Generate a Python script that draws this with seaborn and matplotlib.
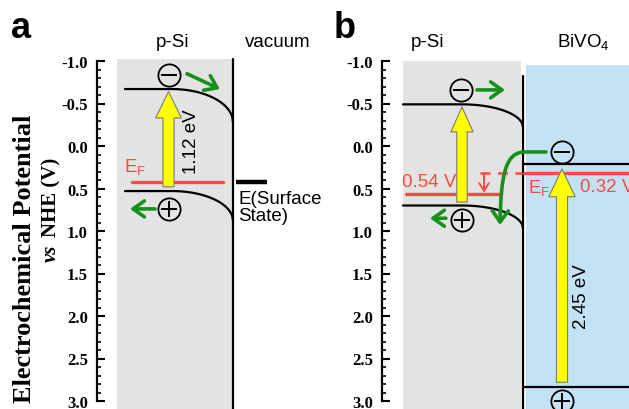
import numpy as np
import matplotlib
matplotlib.use("Agg")
import matplotlib.pyplot as plt
import seaborn as sns
from matplotlib.patches import Rectangle, FancyArrowPatch
from matplotlib.path import Path
from matplotlib.ticker import FixedLocator, FixedFormatter

# ---------------- data (potentials vs NHE, V) ----------------
tick_values = [-1.0, -0.5, 0.0, 0.5, 1.0, 1.5, 2.0, 2.5, 3.0]
tick_labels = ["-1.0", "-0.5", "0.0", "0.5", "1.0", "1.5", "2.0", "2.5", "3.0"]
minor_step = 0.1

# panel a: p-Si / vacuum
a_cb = [-0.67, -0.28]       # conduction band: bulk, surface
a_vb = [0.53, 0.88]         # valence band: bulk, surface
a_ef = 0.42                 # Fermi level
a_surface_state = 0.42      # E(Surface State)
a_gap_label = "1.12 eV"

# panel b: p-Si / BiVO4
b_si_cb = [-0.49, -0.22]
b_si_vb = [0.70, 0.97]
b_si_ef = 0.56
b_bvo_ef = 0.32
b_bvo_cb = 0.21
b_bvo_vb = 2.83
b_gap_label = "2.45 eV"
b_si_ef_label = "0.54 V"
b_bvo_ef_label = "0.32 V"

# ---------------- style ----------------
sns.set_style("white")
plt.rcParams["font.family"] = ["Liberation Sans", "DejaVu Sans"]
plt.rcParams["mathtext.fontset"] = "custom"
plt.rcParams["mathtext.rm"] = "Liberation Sans"
plt.rcParams["mathtext.it"] = "Liberation Sans"
plt.rcParams["axes.unicode_minus"] = False
plt.rcParams["ytick.color"] = "black"
plt.rcParams["ytick.labelcolor"] = "black"
plt.rcParams["text.color"] = "black"

RED = "#ff4a3d"
GREEN = "#17911c"
GRAY = "#e3e3e3"
BLUE = "#c4e2f5"
YELLOW = "#ffff00"
FS = 13.5

W, H = 629, 410
fig = plt.figure(figsize=(W / 100, H / 100), dpi=100)

PX_PER_V = 85.0
Y0_PX = 147.0  # pixel row of 0.0 V
ytop = (0 - Y0_PX) / PX_PER_V
ybot = (H - Y0_PX) / PX_PER_V


def make_axes(x0, x1):
    ax = fig.add_axes([x0 / W, 0, (x1 - x0) / W, 1])
    ax.set_xlim(x0, x1)
    ax.set_ylim(ybot, ytop)
    for s in ["top", "right", "bottom"]:
        ax.spines[s].set_visible(False)
    ax.spines["left"].set_bounds(tick_values[0], tick_values[-1])
    ax.spines["left"].set_linewidth(1.6)
    ax.spines["left"].set_color("black")
    ax.yaxis.set_major_locator(FixedLocator(tick_values))
    ax.yaxis.set_major_formatter(FixedFormatter(tick_labels))
    n_minor = int(round((tick_values[-1] - tick_values[0]) / minor_step))
    ax.yaxis.set_minor_locator(FixedLocator(
        [tick_values[0] + i * minor_step for i in range(n_minor + 1)]))
    ax.tick_params(axis="y", which="major", direction="in", length=5.5, width=1.5,
                   pad=6.5, left=True, right=False, color="black", labelcolor="black")
    ax.tick_params(axis="y", which="minor", direction="in", length=3, width=1.2,
                   left=True, right=False, color="black")
    ax.tick_params(axis="x", bottom=False, labelbottom=False)
    for lab in ax.get_yticklabels():
        lab.set_fontfamily("Liberation Serif")
        lab.set_fontweight("bold")
        lab.set_fontsize(12)
    ax.patch.set_alpha(0)
    ax.grid(False)
    return ax


def band(ax, x_start, x_bend, x_end, e_flat, e_surf, n=80):
    xs = np.concatenate([[x_start], np.linspace(x_bend, x_end, n)])
    t = (xs - x_bend) / (x_end - x_bend)
    t = np.clip(t, 0, 1)
    es = e_flat + (e_surf - e_flat) * (1 - np.sqrt(1 - t ** 2))
    sns.lineplot(x=xs, y=es, ax=ax, color="black", lw=1.6, sort=False,
                 estimator=None)


def carrier(ax, x, y, sign):
    ax.plot([x], [y], "o", ms=16, mfc="none", mec="black", mew=1.3,
            clip_on=False, zorder=6)
    ax.plot([x], [y], "+" if sign > 0 else "_", ms=11, mec="black", mew=1.4,
            clip_on=False, zorder=6)


def yellow_arrow(ax, x, y_from, y_to, tw, hw, hl):
    ax.annotate("", xy=(x, y_to), xytext=(x, y_from),
                arrowprops=dict(arrowstyle=f"simple,head_length={hl},head_width={hw},tail_width={tw}",
                                mutation_scale=10, fc=YELLOW, ec="#7a7a7a", lw=0.8,
                                shrinkA=0, shrinkB=0), zorder=5)


def green_arrow(ax, p_from, p_to):
    ax.annotate("", xy=p_to, xytext=p_from,
                arrowprops=dict(arrowstyle="->,head_length=0.45,head_width=0.32",
                                mutation_scale=18, color=GREEN, lw=2.6,
                                shrinkA=0, shrinkB=0), zorder=6)


# ================= panel a =================
axa = make_axes(97, 320)
axa.add_patch(Rectangle((117, ytop + (60 / PX_PER_V)), 233 - 117, ybot - (ytop + 60 / PX_PER_V),
                        fc=GRAY, ec="none", zorder=0, clip_on=False))
axa.plot([233, 233], [(60 - Y0_PX) / PX_PER_V, ybot], color="black", lw=1.6)
band(axa, 125, 172, 233, a_cb[0], a_cb[1])
band(axa, 125, 172, 233, a_vb[0], a_vb[1])
axa.plot([132, 223], [a_ef, a_ef], color=RED, lw=2.4, zorder=4)
axa.plot([236, 267], [a_surface_state, a_surface_state], color="black", lw=3.2,
         solid_capstyle="butt")
yellow_arrow(axa, 168.5, a_ef + 0.06, a_cb[0] + 0.03, 0.8, 1.85, 1.9)
axa.text(192, -0.06, a_gap_label, rotation=90, ha="center", va="center", fontsize=FS)
axa.text(124, 0.235, r"$\mathrm{E_F}$", color=RED, ha="left", va="center", fontsize=FS)
axa.text(238, 0.52, "E(Surface\nState)", ha="left", va="top", fontsize=FS,
         linespacing=0.95)
carrier(axa, 169, -0.835, -1)
carrier(axa, 169, 0.74, +1)
green_arrow(axa, (187, -0.85), (220, -0.67))
green_arrow(axa, (155, 0.74), (130, 0.74))
axa.text(173, -1.23, "p-Si", ha="center", va="center", fontsize=FS)
axa.text(278, -1.23, "vacuum", ha="center", va="center", fontsize=FS)

# ================= panel b =================
axb = make_axes(382, 629)
axb.add_patch(Rectangle((403, -1.0), 521 - 403, ybot + 1.0, fc=GRAY, ec="none", zorder=0))
axb.add_patch(Rectangle((526, -0.95), 629 - 526, ybot + 0.95, fc=BLUE, ec="none", zorder=0))
axb.plot([523, 523], [-0.82, ybot], color="black", lw=1.6)
band(axb, 403, 462, 523, b_si_cb[0], b_si_cb[1])
band(axb, 403, 462, 523, b_si_vb[0], b_si_vb[1])
axb.plot([524, 629], [b_bvo_cb, b_bvo_cb], color="black", lw=1.6)
axb.plot([524, 629], [b_bvo_vb, b_bvo_vb], color="black", lw=1.6)
axb.plot([406, 500], [b_si_ef, b_si_ef], color=RED, lw=2.4, zorder=4)
axb.plot([480, 522], [b_bvo_ef, b_bvo_ef], color=RED, lw=1.8, ls=(0, (4, 3)), zorder=4)
axb.plot([524, 629], [b_bvo_ef, b_bvo_ef], color=RED, lw=2.4, zorder=4)
axb.annotate("", xy=(484, b_si_ef - 0.01), xytext=(484, b_bvo_ef),
             arrowprops=dict(arrowstyle="->,head_length=0.4,head_width=0.25",
                             mutation_scale=14, color=RED, lw=1.4, shrinkA=0, shrinkB=0))
yellow_arrow(axb, 462, b_si_vb[0] - 0.04, b_si_cb[0] + 0.03, 0.75, 1.6, 1.8)
yellow_arrow(axb, 562, b_bvo_vb - 0.05, b_bvo_cb + 0.06, 0.8, 1.9, 2.0)
axb.text(582, 1.76, b_gap_label, rotation=90, ha="center", va="center", fontsize=FS)
axb.text(402, 0.42, b_si_ef_label, color=RED, ha="left", va="center", fontsize=FS)
axb.text(528, 0.48, r"$\mathrm{E_F}$", color=RED, ha="left", va="center", fontsize=FS)
axb.text(580, 0.48, b_bvo_ef_label, color=RED, ha="left", va="center", fontsize=FS,
         clip_on=False)
carrier(axb, 461, -0.66, -1)
carrier(axb, 462, 0.87, +1)
carrier(axb, 562, 0.07, -1)
carrier(axb, 562, 3.0, +1)
green_arrow(axb, (477, -0.66), (505, -0.66))
green_arrow(axb, (446, 0.85), (430, 0.85))
verts = [(546, 0.07), (525, 0.07), (505, 0.07), (501, 0.35), (500, 0.93)]
codes = [Path.MOVETO, Path.LINETO, Path.CURVE4, Path.CURVE4, Path.CURVE4]
axb.add_patch(FancyArrowPatch(path=Path(verts, codes),
                              arrowstyle="->,head_length=0.45,head_width=0.32",
                              mutation_scale=18, color=GREEN, lw=2.6, zorder=6))
axb.text(428, -1.23, "p-Si", ha="center", va="center", fontsize=FS)
axb.text(583, -1.23, r"BiVO$_4$", ha="center", va="center", fontsize=FS)

# ---------------- figure-level labels ----------------
fig.text(21 / W, 1 - 28 / H, "a", fontsize=26, fontweight="bold", ha="center", va="center")
fig.text(345 / W, 1 - 28 / H, "b", fontsize=26, fontweight="bold", ha="center", va="center")
fig.text(25 / W, 1 - 259 / H, "Electrochemical Potential", rotation=90, ha="center",
         va="center", fontsize=19, fontweight="bold", family="Liberation Serif")
fig.text(51 / W, 1 - 262 / H, "vs", rotation=90, ha="center", va="bottom",
         fontsize=15, fontweight="bold", fontstyle="italic", family="Liberation Serif")
fig.text(51 / W, 1 - 237 / H, "NHE (V)", rotation=90, ha="center", va="bottom",
         fontsize=15, fontweight="bold", family="Liberation Serif")

fig.savefig("out.png", dpi=100)
